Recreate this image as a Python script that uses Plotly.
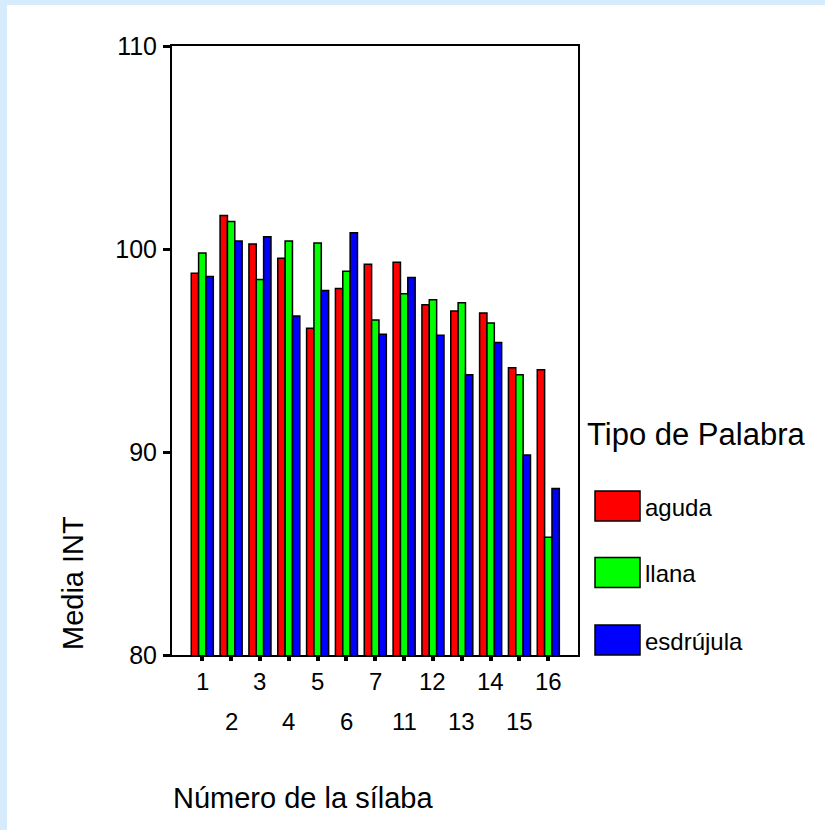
import plotly.graph_objects as go

categories = ["1", "2", "3", "4", "5", "6", "7", "11", "12", "13", "14", "15", "16"]
aguda = [98.8, 101.65, 100.25, 99.55, 96.1, 98.05, 99.25, 99.35, 97.25, 96.95, 96.85, 94.15, 94.05]
llana = [99.8, 101.35, 98.5, 100.4, 100.3, 98.9, 96.5, 97.8, 97.5, 97.35, 96.35, 93.8, 85.8]
esdrujula = [98.65, 100.4, 100.6, 96.7, 97.95, 100.8, 95.8, 98.6, 95.75, 93.8, 95.4, 89.85, 88.2]
series_names = ["aguda", "llana", "esdrújula"]
series_colors = ["#ff0000", "#00ff00", "#0000ff"]
y_ticks = [80, 90, 100, 110]

FONT = "Liberation Sans, Arial, sans-serif"
W, H = 825, 830
L, R, T, B = 172, 578, 46, 655  # plot area in pixels


def px_x(p):
    return (p - L) / (R - L)


def px_y(p):
    return (B - p) / (B - T)


x_idx = list(range(len(categories)))
fig = go.Figure()
bw = 0.255
offsets = [-0.3825, -0.1275, 0.1275]
for name, vals, col, off in zip(series_names, [aguda, llana, esdrujula], series_colors, offsets):
    fig.add_trace(go.Bar(
        x=x_idx, y=vals, name=name, width=bw, offset=off,
        marker=dict(color=col, line=dict(color="black", width=1.5)),
        customdata=categories,
        hovertemplate="Sílaba %{customdata}<br>" + name + ": %{y:.2f}<extra></extra>",
        showlegend=False,
    ))

annotations = []
# two-row x tick labels
for i, lab in enumerate(categories):
    annotations.append(dict(
        x=i, xref="x", y=px_y(681) if i % 2 == 0 else px_y(721), yref="paper",
        text=lab, showarrow=False, xanchor="center", yanchor="middle",
        font=dict(family=FONT, size=24, color="black"),
    ))

# axis titles
annotations.append(dict(
    x=px_x(171), xref="paper", y=px_y(798), yref="paper", text="Número de la sílaba",
    showarrow=False, xanchor="left", yanchor="middle",
    font=dict(family=FONT, size=29, color="black"),
))
annotations.append(dict(
    x=px_x(73), xref="paper", y=px_y(583), yref="paper", text="Media INT",
    showarrow=False, xanchor="center", yanchor="middle", textangle=-90,
    font=dict(family=FONT, size=29, color="black"),
))

# legend (custom, large swatches)
annotations.append(dict(
    x=px_x(585), xref="paper", y=px_y(434), yref="paper", text="Tipo de Palabra",
    showarrow=False, xanchor="left", yanchor="middle",
    font=dict(family=FONT, size=31, color="black"),
))
shapes = []
leg_centers = [506, 572.5, 640]
for name, col, cy in zip(series_names, series_colors, leg_centers):
    shapes.append(dict(
        type="rect", xref="paper", yref="paper",
        x0=px_x(595), x1=px_x(640), y0=px_y(cy + 15), y1=px_y(cy - 15),
        fillcolor=col, line=dict(color="black", width=1.5),
    ))
    annotations.append(dict(
        x=px_x(643), xref="paper", y=px_y(cy + 1), yref="paper", text=name,
        showarrow=False, xanchor="left", yanchor="middle",
        font=dict(family=FONT, size=24, color="black"),
    ))

# light-blue frame at top and left
bg = "#d6ecfc"
shapes.append(dict(type="rect", xref="paper", yref="paper", layer="below",
                   x0=px_x(0), x1=px_x(W), y0=px_y(5), y1=px_y(0),
                   fillcolor=bg, line=dict(width=0)))
shapes.append(dict(type="rect", xref="paper", yref="paper", layer="below",
                   x0=px_x(0), x1=px_x(7), y0=px_y(H), y1=px_y(0),
                   fillcolor=bg, line=dict(width=0)))

fig.update_layout(
    width=W, height=H,
    margin=dict(l=L, r=W - R, t=T, b=H - B, pad=0),
    paper_bgcolor="white", plot_bgcolor="white",
    barmode="overlay",
    showlegend=False,
    annotations=annotations,
    shapes=shapes,
    font=dict(family=FONT, color="black"),
    xaxis=dict(
        range=[-1.05, 13.03], tickvals=x_idx, ticktext=categories, showticklabels=False,
        ticks="outside", ticklen=4, tickwidth=4, tickcolor="black",
        showline=True, linecolor="black", linewidth=2, mirror=True,
        showgrid=False, zeroline=False, fixedrange=True,
    ),
    yaxis=dict(
        range=[80, 110], tickvals=y_ticks, ticktext=[str(v) for v in y_ticks],
        ticks="outside", ticklen=7, tickwidth=3, tickcolor="black",
        tickfont=dict(family=FONT, size=25, color="black"),
        ticklabelstandoff=1,
        showline=True, linecolor="black", linewidth=2, mirror=True,
        showgrid=False, zeroline=False, fixedrange=True,
    ),
)

fig.write_html(
    "out.html",
    config={"displayModeBar": False},
    post_script="document.body.style.margin='0';document.body.style.overflow='hidden';",
)
